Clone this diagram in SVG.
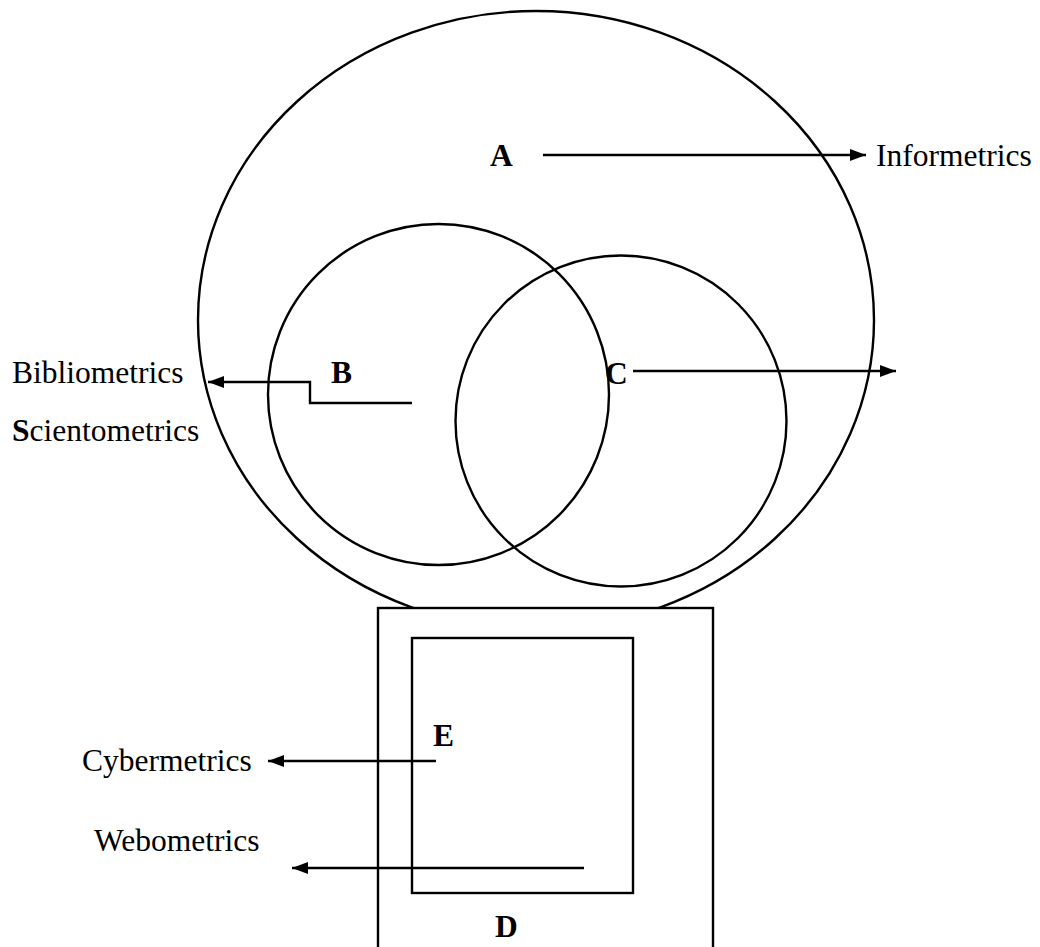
<svg xmlns="http://www.w3.org/2000/svg" width="1040" height="947" viewBox="0 0 1040 947">
<style>
.s{fill:none;stroke:#000;stroke-width:2.4}
.t{font-family:"Liberation Serif","Times New Roman",serif;font-size:31.5px;fill:#000}
.b{font-weight:bold}
</style>
<defs>
<marker id="ah" viewBox="0 0 16 12" refX="16" refY="6" markerWidth="16" markerHeight="12" markerUnits="userSpaceOnUse" orient="auto">
<path d="M0,0 L16,6 L0,12 Z" fill="#000"/>
</marker>
</defs>
<rect width="1040" height="947" fill="#fff"/>
<g id="nodeA"><ellipse class="s" cx="536" cy="320" rx="338" ry="309"/><text class="t b" x="490" y="166">A</text></g>
<g id="nodeB"><circle class="s" cx="438.5" cy="394.5" r="170.5"/><text class="t b" x="331" y="383">B</text></g>
<g id="nodeC"><circle class="s" cx="621" cy="421" r="165.5"/><text class="t b" x="605" y="384">C</text></g>
<g id="nodeD"><rect x="378" y="608" width="335" height="345" fill="#fff" stroke="#000" stroke-width="2.4"/><text class="t b" x="495" y="937">D</text></g>
<g id="nodeE"><rect class="s" x="412" y="638" width="221" height="255"/><text class="t b" x="433" y="746">E</text></g>
<g id="labels">
<text class="t" x="876" y="166">Informetrics</text>
<text class="t" x="12" y="383">Bibliometrics</text>
<text class="t" x="12" y="441"><tspan class="b">S</tspan>cientometrics</text>
<text class="t" x="82" y="771">Cybermetrics</text>
<text class="t" x="94" y="851">Webometrics</text>
</g>
<g id="connectors">
<line class="s" x1="543" y1="155" x2="866" y2="155" marker-end="url(#ah)"/>
<polyline class="s" points="412,403 310,403 310,382 208,382" marker-end="url(#ah)"/>
<line class="s" x1="633" y1="371" x2="896" y2="371" marker-end="url(#ah)"/>
<line class="s" x1="436" y1="761" x2="268" y2="761" marker-end="url(#ah)"/>
<line class="s" x1="584" y1="868" x2="292" y2="868" marker-end="url(#ah)"/>
</g>
</svg>
